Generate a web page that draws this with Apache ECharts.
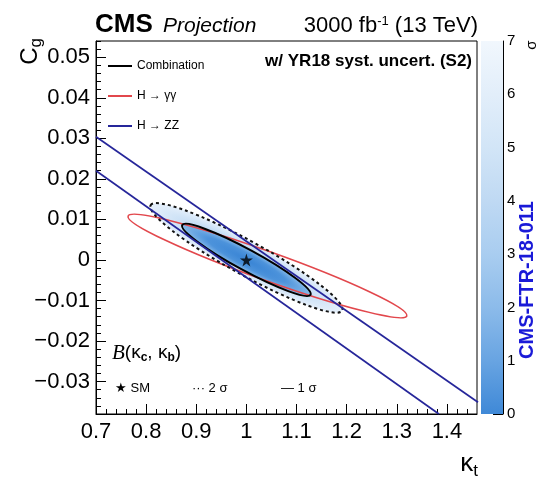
<!DOCTYPE html>
<html>
<head>
<meta charset="utf-8">
<script src="https://cdn.jsdelivr.net/npm/echarts@6/dist/echarts.min.js"></script>
<style>
html, body { margin: 0; padding: 0; background: #fff; }
#main { width: 540px; height: 478px; }
</style>
</head>
<body>
<div id="main"></div>
<script>
// axis ticks and labels
var xMajor = [0.7, 0.8, 0.9, 1.0, 1.1, 1.2, 1.3, 1.4];
var xMinor = [0.72, 0.74, 0.76, 0.78, 0.82, 0.84, 0.86, 0.88, 0.92, 0.94, 0.96, 0.98,
              1.02, 1.04, 1.06, 1.08, 1.12, 1.14, 1.16, 1.18, 1.22, 1.24, 1.26, 1.28,
              1.32, 1.34, 1.36, 1.38, 1.42, 1.44];
var yMajor = [-0.03, -0.02, -0.01, 0, 0.01, 0.02, 0.03, 0.04, 0.05];
var yMinor = [-0.038, -0.036, -0.034, -0.032, -0.028, -0.026, -0.024, -0.022,
              -0.018, -0.016, -0.014, -0.012, -0.008, -0.006, -0.004, -0.002,
              0.002, 0.004, 0.006, 0.008, 0.012, 0.014, 0.016, 0.018,
              0.022, 0.024, 0.026, 0.028, 0.032, 0.034, 0.036, 0.038,
              0.042, 0.044, 0.046, 0.048, 0.052, 0.054];
var sigmaTicks = [0, 1, 2, 3, 4, 5, 6, 7];

// contours: [centre x, centre y, tip of long axis x, y, end of short axis x, y]
var comb1sigma = [1.0, 0.0, 1.128, -0.0086, 0.990, -0.0023];
var comb2sigma = [1.0, 0.0005, 1.191, -0.0125, 0.984, -0.0032];
var gammaGamma = [1.042, -0.0015, 1.320, -0.0138, 1.032, -0.0048];
// H -> ZZ band edges
var zzUpper = [[0.7, 0.0304], [1.462, -0.0351]];
var zzLower = [[0.7, 0.0220], [1.384, -0.0380]];
var smPoint = [[1.0, 0.0]];

var FONT = 'Liberation Sans, Arial, sans-serif';
var chart = echarts.init(document.getElementById('main'));

var ellipseFrame = function(api) {
    var c = api.coord([api.value(0), api.value(1)]);
    var t = api.coord([api.value(2), api.value(3)]);
    var s = api.coord([api.value(4), api.value(5)]);
    var dx = t[0] - c[0], dy = t[1] - c[1];
    return {
        x: c[0], y: c[1],
        rx: Math.sqrt(dx * dx + dy * dy),
        ry: Math.sqrt((s[0] - c[0]) * (s[0] - c[0]) + (s[1] - c[1]) * (s[1] - c[1])),
        rotation: -Math.atan2(dy, dx)
    };
};

var fillItem = function(stops) {
    return function(params, api) {
        var e = ellipseFrame(api);
        return {
            type: 'circle',
            x: e.x, y: e.y, rotation: e.rotation,
            scaleX: e.rx / e.ry, scaleY: 1,
            shape: { cx: 0, cy: 0, r: e.ry },
            style: { fill: new echarts.graphic.RadialGradient(0.5, 0.5, 0.5, stops) }
        };
    };
};

var outlineItem = function(color, width, dash) {
    return function(params, api) {
        var e = ellipseFrame(api);
        return {
            type: 'ellipse',
            x: e.x, y: e.y, rotation: e.rotation,
            shape: { cx: 0, cy: 0, rx: e.rx, ry: e.ry },
            style: { fill: 'none', stroke: color, lineWidth: width, lineDash: dash }
        };
    };
};

var fmt = function(v) {
    return v < 0 ? '\u2212' + String(-v) : String(v);
};

var STAR = 'path://M50,0L61,35L98,35L68,57L79,91L50,70L21,91L32,57L2,35L39,35Z';

option = {
    backgroundColor: '#fff',
    animation: false,
    grid: [
        { left: 96, right: 63, top: 41, bottom: 64, show: true, borderColor: '#000', borderWidth: 1, backgroundColor: 'transparent' },
        { left: 481, width: 22, top: 41, bottom: 64 }
    ],
    legend: {
        orient: 'vertical',
        left: 103, top: 55,
        itemWidth: 24, itemHeight: 2, itemGap: 18,
        selectedMode: false,
        textStyle: { fontSize: 12, fontFamily: FONT, color: '#000' },
        data: [
            { name: 'Combination', icon: 'path://M0,0H24V2H0Z', itemStyle: { color: '#000' } },
            { name: 'H \u2192 \u03b3\u03b3', icon: 'path://M0,0H24V2H0Z', itemStyle: { color: '#e2474c' } },
            { name: 'H \u2192 ZZ', icon: 'path://M0,0H24V2H0Z', itemStyle: { color: '#26269a' } }
        ]
    },
    xAxis: [
        {
            type: 'value', gridIndex: 0, min: 0.7, max: 1.46,
            axisLine: { show: true, onZero: false, lineStyle: { color: '#000', width: 1 } },
            axisTick: { show: true, inside: true, length: 10, customValues: xMajor, lineStyle: { color: '#000' } },
            axisLabel: { customValues: xMajor, formatter: fmt, fontSize: 22, fontFamily: FONT, color: '#000', margin: 7 },
            splitLine: { show: false }
        },
        {
            type: 'value', gridIndex: 0, min: 0.7, max: 1.46, position: 'bottom',
            axisLine: { show: false, onZero: false },
            axisTick: { show: true, inside: true, length: 5, customValues: xMinor, lineStyle: { color: '#000' } },
            axisLabel: { show: false },
            splitLine: { show: false }
        },
        { type: 'category', gridIndex: 1, data: [''], show: false }
    ],
    yAxis: [
        {
            type: 'value', gridIndex: 0, min: -0.038, max: 0.054,
            axisLine: { show: true, onZero: false, lineStyle: { color: '#000', width: 1 } },
            axisTick: { show: true, inside: true, length: 10, customValues: yMajor, lineStyle: { color: '#000' } },
            axisLabel: { customValues: yMajor, formatter: fmt, fontSize: 22, fontFamily: FONT, color: '#000', margin: 6 },
            splitLine: { show: false }
        },
        {
            type: 'value', gridIndex: 0, min: -0.038, max: 0.054, position: 'left',
            axisLine: { show: false, onZero: false },
            axisTick: { show: true, inside: true, length: 5, customValues: yMinor, lineStyle: { color: '#000' } },
            axisLabel: { show: false },
            splitLine: { show: false }
        },
        {
            type: 'value', gridIndex: 1, min: 0, max: 7, position: 'right',
            axisLine: { show: true, onZero: false, lineStyle: { color: '#000', width: 1 } },
            axisTick: { show: true, inside: true, length: 10, customValues: sigmaTicks, lineStyle: { color: '#000' } },
            axisLabel: { customValues: sigmaTicks, fontSize: 15, fontFamily: FONT, color: '#000', margin: 4 },
            splitLine: { show: false }
        }
    ],
    series: [
        {
            name: 'fill2', type: 'custom', silent: true, clip: true,
            renderItem: fillItem([
                { offset: 0, color: '#8fbeea' },
                { offset: 1, color: '#e6f0fb' }
            ]),
            data: [comb2sigma]
        },
        {
            name: 'fill1', type: 'custom', silent: true, clip: true,
            renderItem: fillItem([
                { offset: 0, color: '#3a85d5' },
                { offset: 0.6, color: '#4d93db' },
                { offset: 1, color: '#86b9e9' }
            ]),
            data: [comb1sigma]
        },
        {
            name: 'H \u2192 \u03b3\u03b3', type: 'custom', silent: true, clip: true,
            renderItem: outlineItem('#e2474c', 1.6, null),
            data: [gammaGamma]
        },
        {
            name: 'H \u2192 ZZ', type: 'line', silent: true, clip: true,
            symbol: 'none', lineStyle: { color: '#26269a', width: 1.7 },
            itemStyle: { color: '#26269a' },
            data: zzUpper
        },
        {
            name: 'H \u2192 ZZ', type: 'line', silent: true, clip: true,
            symbol: 'none', lineStyle: { color: '#26269a', width: 1.7 },
            itemStyle: { color: '#26269a' },
            data: zzLower
        },
        {
            name: '2sigma', type: 'custom', silent: true, clip: true,
            renderItem: outlineItem('#111', 2, [3, 3]),
            data: [comb2sigma]
        },
        {
            name: 'Combination', type: 'custom', silent: true, clip: true,
            renderItem: outlineItem('#000', 2, null),
            data: [comb1sigma]
        },
        {
            name: 'SM', type: 'scatter', silent: true,
            symbol: STAR, symbolSize: 13,
            itemStyle: { color: '#000' },
            data: smPoint, z: 5
        },
        {
            name: 'sigma', type: 'bar', xAxisIndex: 2, yAxisIndex: 2, silent: true,
            barWidth: '100%',
            itemStyle: {
                color: new echarts.graphic.LinearGradient(0, 1, 0, 0, [
                    { offset: 0, color: '#3f89d7' },
                    { offset: 0.143, color: '#68a4e2' },
                    { offset: 0.286, color: '#8cbbea' },
                    { offset: 0.429, color: '#a9cdf0' },
                    { offset: 0.571, color: '#bfd9f3' },
                    { offset: 0.714, color: '#d2e5f7' },
                    { offset: 0.857, color: '#e2eefa' },
                    { offset: 1, color: '#f1f7fd' }
                ])
            },
            data: [7]
        }
    ],
    graphic: [
        { type: 'text', x: 95, y: 25, style: { text: 'CMS', fontSize: 26, fontWeight: 'bold', fontFamily: FONT, fill: '#000', verticalAlign: 'middle' } },
        { type: 'text', x: 163, y: 26, style: { text: 'Projection', fontSize: 21, fontStyle: 'italic', fontFamily: FONT, fill: '#000', verticalAlign: 'middle' } },
        {
            type: 'text', x: 478, y: 26,
            style: {
                text: '3000 fb{s|-1} (13 TeV)', fontSize: 22, fontFamily: FONT, fill: '#000', align: 'right', verticalAlign: 'middle',
                rich: { s: { fontSize: 13, fontFamily: FONT, verticalAlign: 'top', padding: [0, 0, 10, 0] } }
            }
        },
        { type: 'text', x: 472, y: 61, style: { text: 'w/ YR18 syst. uncert. (S2)', fontSize: 17, fontWeight: 'bold', fontFamily: FONT, fill: '#000', align: 'right', verticalAlign: 'middle' } },
        {
            type: 'text', x: 30, y: 38, rotation: Math.PI / 2,
            style: {
                text: 'C{g|g}', fontSize: 24, fontFamily: FONT, fill: '#000', align: 'right', verticalAlign: 'middle',
                rich: { g: { fontSize: 17, fontFamily: FONT, padding: [12, 0, 0, 0] } }
            }
        },
        {
            type: 'text', x: 478, y: 464,
            style: {
                text: '\u03ba{t|t}', fontSize: 26, fontFamily: FONT, fill: '#000', align: 'right', verticalAlign: 'middle',
                rich: { t: { fontSize: 17, fontFamily: FONT, padding: [14, 0, 0, 0] } }
            }
        },
        { type: 'text', x: 532, y: 45, rotation: Math.PI / 2, style: { text: '\u03c3', fontSize: 15, fontFamily: FONT, fill: '#000', align: 'center', verticalAlign: 'middle' } },
        { type: 'text', x: 527, y: 280, rotation: Math.PI / 2, style: { text: 'CMS-FTR-18-011', fontSize: 20, fontWeight: 'bold', fontFamily: FONT, fill: '#1a1ad8', align: 'center', verticalAlign: 'middle' } },
        {
            type: 'text', x: 112, y: 353,
            style: {
                text: '{b|B}(\u03ba{s|c}, \u03ba{s|b})', fontSize: 19, fontFamily: FONT, fill: '#000', verticalAlign: 'middle',
                rich: {
                    b: { fontSize: 21, fontFamily: 'Liberation Serif, serif', fontStyle: 'italic' },
                    s: { fontSize: 12, fontWeight: 'bold', fontFamily: FONT, padding: [10, 0, 0, 0] }
                }
            }
        },
        { type: 'text', x: 115, y: 388, style: { text: '\u2605 SM', fontSize: 13, fontFamily: FONT, fill: '#000', verticalAlign: 'middle' } },
        { type: 'text', x: 192, y: 388, style: { text: '\u00b7\u00b7\u00b7 2 \u03c3', fontSize: 13, fontFamily: FONT, fill: '#000', verticalAlign: 'middle' } },
        { type: 'text', x: 281, y: 388, style: { text: '\u2014 1 \u03c3', fontSize: 13, fontFamily: FONT, fill: '#000', verticalAlign: 'middle' } }
    ]
};

chart.setOption(option);
</script>
</body>
</html>
